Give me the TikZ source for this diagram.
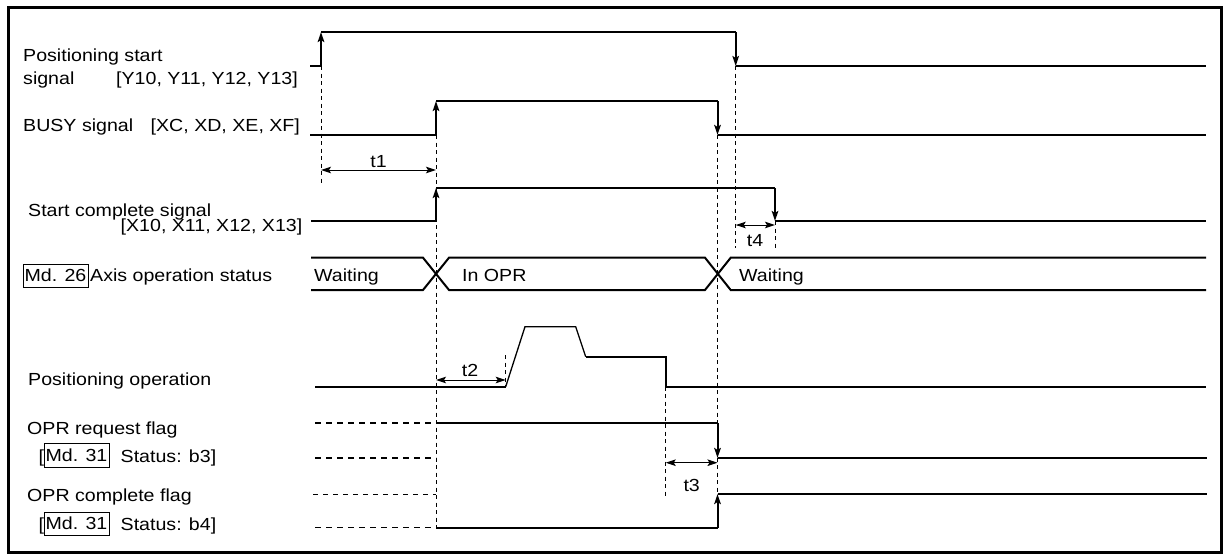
\documentclass[tikz,border=0pt]{standalone}
\usepackage{fontspec}
\setmainfont{Liberation Sans}[FakeStretch=1.12]
\usetikzlibrary{arrows.meta}
\begin{document}
\begin{tikzpicture}[x=1pt,y=-1pt,
  tip/.tip={Stealth[length=10pt,width=6.5pt,inset=2pt]},
  sig/.style={line width=2pt},
  thinsig/.style={line width=1.3pt},
  guide/.style={line width=0.9pt,dash pattern=on 4pt off 3.5pt},
  flagdash/.style={line width=1.8pt,dash pattern=on 6pt off 5pt},
  flagdashthin/.style={line width=1pt,dash pattern=on 5pt off 5pt},
  dim/.style={line width=1pt,tip-tip},
  lbl/.style={anchor=base west,inner sep=0pt,font=\fontsize{17.5}{20}\selectfont},
  tlbl/.style={anchor=base,inner sep=0pt,font=\fontsize{17.5}{20}\selectfont},
  mdbox/.style={draw,line width=0.9pt,minimum width=65pt,minimum height=23.5pt,inner sep=0pt,anchor=center,font=\fontsize{17.5}{20}\selectfont}
]
\useasboundingbox (0,0) rectangle (1223,554);
\draw[line width=3pt] (8,7) rectangle (1221,552);

% labels
\node[lbl] (ps1) at (23,61.7) {Positioning start};
\node[lbl] (ps2) at (23,84) {signal};
\node[lbl] (ps3) at (116,84) {[Y10, Y11, Y12, Y13]};
\node[lbl] (busy) at (23,131.7) {BUSY signal};
\node[lbl] (busyx) at (150.5,131.7) {[XC, XD, XE, XF]};
\node[lbl] (sc1) at (28,216.7) {Start complete signal};
\node[lbl] (sc2) at (120.5,231.7) {[X10, X11, X12, X13]};
\node[mdbox] (md26) at (55.5,275.7) {Md. 26};
\node[lbl] (axis) at (90,281.7) {Axis operation status};
\node[lbl] (w1) at (314,281.7) {Waiting};
\node[lbl] (inopr) at (462,281.7) {In OPR};
\node[lbl] (w2) at (739,281.7) {Waiting};
\node[lbl] (posop) at (28,385) {Positioning operation};
\node[lbl] (reqf) at (27,434) {OPR request flag};
\node[lbl] (br1) at (38.5,462) {[};
\node[mdbox] (md31a) at (76.5,455.3) {Md. 31};
\node[lbl] (st3) at (120.5,462) {Status: b3]};
\node[lbl] (cmpf) at (27,501) {OPR complete flag};
\node[lbl] (br2) at (38.5,530) {[};
\node[mdbox] (md31b) at (76.5,523.7) {Md. 31};
\node[lbl] (st4) at (120.5,530) {Status: b4]};

% guide lines
\draw[guide] (321,66) -- (321,183);
\draw[guide] (436,135) -- (436,527.5);
\draw[guide] (717.5,135) -- (717.5,527);
\draw[guide] (735.7,66) -- (735.7,248);
\draw[guide] (775,221) -- (775,248);
\draw[guide] (505.7,355) -- (505.7,386.7);
\draw[guide] (665.7,386.7) -- (665.7,496.7);

% Positioning start signal
\draw[sig] (310,66) -- (321,66);
\draw[sig,-tip] (321,66) -- (321,32);
\draw[sig] (321,32) -- (735.7,32);
\draw[sig,-tip] (735.7,32) -- (735.7,66);
\draw[sig] (735.7,66) -- (1206,66);

% BUSY signal
\draw[sig] (310,135) -- (436,135);
\draw[sig,-tip] (436,135) -- (436,101);
\draw[sig] (436,101) -- (717.5,101);
\draw[sig,-tip] (717.5,101) -- (717.5,135);
\draw[sig] (717.5,135) -- (1206,135);

% t1
\draw[dim] (321,170) -- (436,170);
\node[tlbl] (t1) at (378.5,167) {t1};

% Start complete signal
\draw[sig] (311,220.7) -- (436,220.7);
\draw[sig,-tip] (436,220.7) -- (436,188);
\draw[sig] (436,188) -- (775,188);
\draw[sig,-tip] (775,188) -- (775,221);
\draw[sig] (775,221) -- (1206,221);

% t4
\draw[dim] (735.7,225) -- (775,225);
\node[tlbl] (t4) at (755,246) {t4};

% Axis operation status
\draw[sig] (311,257.7) -- (423,257.7) -- (449,290) -- (705,290) -- (730.7,257.7) -- (1206,257.7);
\draw[sig] (311,290) -- (423,290) -- (449,257.7) -- (705,257.7) -- (730.7,290) -- (1206,290);

% Positioning operation
\draw[sig] (315,386.7) -- (505.7,386.7);
\draw[thinsig] (505.7,386.7) -- (525,326.7) -- (575.7,326.7) -- (585.7,356.7);
\draw[sig] (585.7,356.7) -- (665.7,356.7) -- (665.7,386.7) -- (1206,386.7);

% t2
\draw[dim] (436,380) -- (505.7,380);
\node[tlbl] (t2) at (470,376.7) {t2};

% OPR request flag
\draw[flagdash] (315,423.3) -- (436,423.3);
\draw[sig] (436,423.3) -- (717.5,423.3);
\draw[sig,-tip] (717.5,423.3) -- (717.5,458);
\draw[thinsig] (717.5,458) -- (1207,458);
\draw[flagdash] (315,458) -- (436,458);

% OPR complete flag
\draw[flagdashthin] (313,494) -- (436,494);
\draw[flagdash] (315,527.5) -- (436,527.5);
\draw[sig] (436,527.5) -- (717.5,527.5);
\draw[sig,-tip] (717.5,527.5) -- (717.5,494);
\draw[thinsig] (717.5,494) -- (1207,494);

% t3
\draw[dim] (665.7,462.7) -- (717.5,462.7);
\node[tlbl] (t3) at (691.7,491.5) {t3};
\end{tikzpicture}
\end{document}
